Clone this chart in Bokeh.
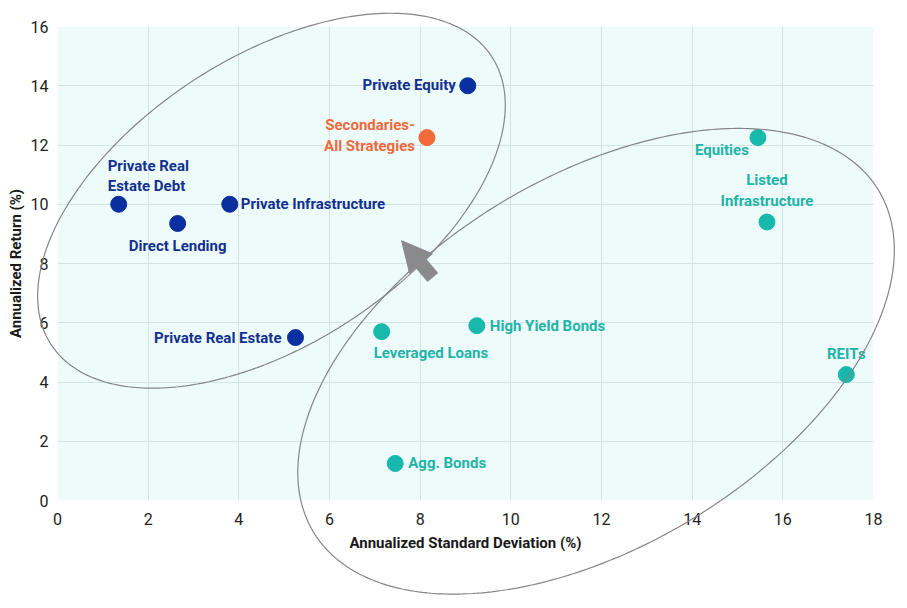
import numpy as np
from bokeh.plotting import figure
from bokeh.models import ColumnDataSource, Range1d, FixedTicker, PolyAnnotation, Arrow, NormalHead
from bokeh.embed import file_html
from bokeh.resources import INLINE
from bokeh.core.properties import value

# ---- data ----
names = ["Private Real\nEstate Debt", "Direct Lending", "Private Infrastructure",
         "Private Real Estate", "Private Equity", "Secondaries-\nAll Strategies",
         "Equities", "Listed\nInfrastructure", "REITs", "High Yield Bonds",
         "Leveraged Loans", "Agg. Bonds"]
std_dev = [1.35, 2.65, 3.8, 5.25, 9.05, 8.15, 15.45, 15.65, 17.4, 9.25, 7.15, 7.45]
ann_return = [10.0, 9.35, 10.0, 5.5, 14.0, 12.25, 12.25, 9.4, 4.25, 5.9, 5.7, 1.25]
category = ["private", "private", "private", "private", "private", "secondaries",
            "public", "public", "public", "public", "public", "public"]
x_ticks = [0, 2, 4, 6, 8, 10, 12, 14, 16, 18]
y_ticks = [0, 2, 4, 6, 8, 10, 12, 14, 16]
X_MIN, X_MAX = 0, 18
Y_MIN, Y_MAX = 0, 16

# ---- styles ----
DOT = {"private": "#0a2f9e", "secondaries": "#f26a3a", "public": "#17b9ac"}
TXT = {"private": "#12308f", "secondaries": "#ef6a3c", "public": "#22b3a7"}
# label placement: (align, baseline, dx px, dy px)
PLACE = {
    "Private Real\nEstate Debt": ("left", "bottom", -11, -9),
    "Direct Lending": ("center", "top", 0, 13),
    "Private Infrastructure": ("left", "middle", 11, 0),
    "Private Real Estate": ("right", "middle", -14, 0),
    "Private Equity": ("right", "middle", -12, -1),
    "Secondaries-\nAll Strategies": ("right", "middle", -12, -2),
    "Equities": ("right", "top", -9, 3),
    "Listed\nInfrastructure": ("center", "bottom", 0, -12),
    "REITs": ("center", "bottom", 0, -12),
    "High Yield Bonds": ("left", "middle", 13, 0),
    "Leveraged Loans": ("left", "top", -8, 12),
    "Agg. Bonds": ("left", "middle", 13, 0),
}
FONT = "Roboto"
W, H = 907, 608
# plot-area box inside the canvas (pixels): left, right, top, bottom
PL, PR, PT, PB = 57, 873, 26, 500
sx = (PR - PL) / (X_MAX - X_MIN)
sy = (PB - PT) / (Y_MAX - Y_MIN)
XR = (X_MIN - PL / sx, X_MAX + (W - PR) / sx)
YR = (Y_MIN - (H - PB) / sy, Y_MAX + PT / sy)

p = figure(width=W, height=H, output_backend="svg", toolbar_location=None,
           x_range=Range1d(*XR), y_range=Range1d(*YR),
           min_border_left=0, min_border_right=0, min_border_top=0, min_border_bottom=0)
p.background_fill_color = "white"
p.border_fill_color = "white"
p.outline_line_color = None

# plot-area background
p.quad(left=[X_MIN], right=[X_MAX], bottom=[Y_MIN], top=[Y_MAX],
       fill_color="#eefbfb", line_color=None, level="image")

for ax in (p.xaxis[0], p.yaxis[0]):
    ax.axis_line_color = None
    ax.major_tick_line_color = None
    ax.minor_tick_line_color = None
    ax.major_tick_out = 0
    ax.major_tick_in = 0
    ax.major_label_text_font = FONT
    ax.major_label_text_font_size = "16px"
    ax.major_label_text_color = "#222222"
    ax.axis_label_text_font = FONT
    ax.axis_label_text_font_size = "15px"
    ax.axis_label_text_font_style = "bold"
    ax.axis_label_text_color = "#1a1a1a"
p.xaxis.fixed_location = Y_MIN
p.yaxis.fixed_location = X_MIN
p.xaxis.bounds = (X_MIN, X_MAX)
p.yaxis.bounds = (Y_MIN, Y_MAX)
p.xaxis.ticker = FixedTicker(ticks=x_ticks)
p.yaxis.ticker = FixedTicker(ticks=y_ticks)
p.xaxis.major_label_standoff = 12
p.yaxis.major_label_standoff = 9
p.xaxis.axis_label = "Annualized Standard Deviation (%)"
p.yaxis.axis_label = "Annualized Return (%)"
p.xaxis.axis_label_standoff = 6
p.yaxis.axis_label_standoff = 3

p.xgrid.ticker = FixedTicker(ticks=x_ticks[1:-1])
p.ygrid.ticker = FixedTicker(ticks=y_ticks[1:-1])
p.xgrid.grid_line_color = "#d5e3e3"
p.ygrid.grid_line_color = "#d5e3e3"
p.xgrid.level = "image"
p.ygrid.level = "image"

# white margins masking the grid outside the plot area
p.quad(left=[XR[0], X_MAX, XR[0], XR[0]], right=[X_MIN, XR[1], XR[1], XR[1]],
       bottom=[YR[0], YR[0], YR[0], Y_MAX], top=[YR[1], YR[1], Y_MIN, YR[1]],
       fill_color="white", line_color=None, level="underlay")

# ---- ellipses (centre, major half-axis vector, minor half-axis vector, data units) ----
t = np.linspace(0, 2 * np.pi, 360)
ELLIPSES = [
    ((4.72, 10.12), (4.853, 4.875), (-1.746, 4.034)),
    ((11.88, 4.70), (6.225, 5.788), (-2.130, 5.317)),
]
for (cx, cy), (mx, my), (nx, ny) in ELLIPSES:
    ex = cx + np.cos(t) * mx + np.sin(t) * nx
    ey = cy + np.cos(t) * my + np.sin(t) * ny
    p.add_layout(PolyAnnotation(xs=list(ex), ys=list(ey), fill_color=None, fill_alpha=0,
                                line_color="#858585", line_alpha=1.0, line_width=1.2))

# ---- arrow ----
p.add_layout(Arrow(x_start=8.28, y_start=7.53, x_end=7.59, y_end=8.77,
                   line_color="#8a8a8a", line_width=14,
                   end=NormalHead(size=30, fill_color="#8a8a8a", line_color="#8a8a8a")))

# ---- points ----
src = ColumnDataSource(dict(x=std_dev, y=ann_return,
                            c=[DOT[k] for k in category]))
p.scatter("x", "y", source=src, size=16, fill_color="c", line_color="c")

# ---- labels ----
groups = {}
for n, xv, yv, k in zip(names, std_dev, ann_return, category):
    a, b, dx, dy = PLACE[n]
    g = groups.setdefault((a, b), dict(x=[], y=[], text=[], dx=[], dy=[], tc=[]))
    g["x"].append(xv); g["y"].append(yv); g["text"].append(n)
    g["dx"].append(dx); g["dy"].append(dy); g["tc"].append(TXT[k])
for (a, b), g in groups.items():
    s = ColumnDataSource(g)
    p.text("x", "y", text="text", source=s, x_offset="dx", y_offset="dy",
           text_align=a, text_baseline=b, text_color="tc",
           text_font=value(FONT), text_font_size="15px", text_font_style="bold",
           text_line_height=1.15)

open("out.html", "w").write(file_html(p, INLINE))
